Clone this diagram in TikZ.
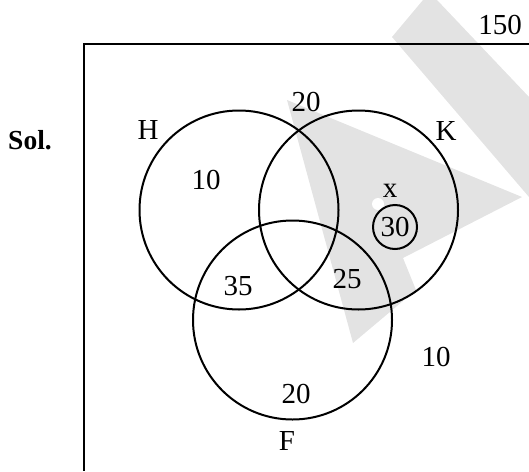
\documentclass[tikz,border=0pt]{standalone}
\usepackage{fontspec}
\setmainfont{Liberation Serif}
\usetikzlibrary{positioning}
\definecolor{markgray}{HTML}{E3E3E3}
\tikzset{
    setcircle/.style={
        circle,
        draw,
        line width=2pt,
        minimum size=199pt,
        inner sep=0pt
    },
    setlabel/.style={
        inner sep=0pt,
        font={\fontsize{29pt}{34pt}\selectfont}
    },
}

\begin{document}
\begin{tikzpicture}[x=1pt, y=-1pt]
\useasboundingbox (0,0) rectangle (529,471);
% faint mark behind the sets
\fill[markgray] (392,37) -- (423,0) -- (437,0) -- (529,97) -- (529,197) -- cycle;
\fill[markgray] (287,100) -- (522,197) -- (403,258) -- (416,290) -- (353,343) -- cycle;
\fill[white] (378,204) circle (6);

% universal set
\draw[line width=1.8pt] (529,44) -- (84,44) -- (84,471);
\node[setlabel] (total) at (500,25) {150};
\node[setlabel, font={\fontsize{27.5pt}{32pt}\selectfont\bfseries}] (sol) at (30,140) {Sol.};

% the three sets
\node[setcircle] (H) at (239,210) {};
\node[setcircle] (K) at (358.5,210) {};
\node[setcircle] (F) at (292.5,320) {};
\node[setcircle, minimum size=44pt, setlabel] (x30) at (395,227) {30};

\node[setlabel] (hname) at (148,130) {H};
\node[setlabel] (kname) at (446,131) {K};
\node[setlabel] (fname) at (287,441) {F};
\node[setlabel] (xname) at (390,191) {x};

\node[setlabel] (hk) at (306,102) {20};
\node[setlabel] (honly) at (206,180) {10};
\node[setlabel] (hf) at (238,286) {35};
\node[setlabel] (kf) at (347,279) {25};
\node[setlabel] (fonly) at (296,394) {20};
\node[setlabel] (none) at (436,357) {10};
\end{tikzpicture}
\end{document}
